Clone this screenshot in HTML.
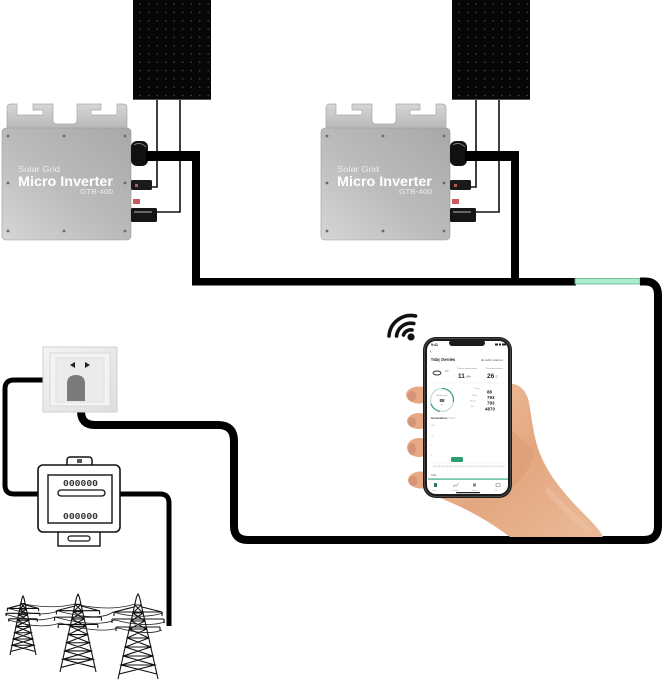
<!DOCTYPE html>
<html><head><meta charset="utf-8"><style>
html,body{margin:0;padding:0;background:#fff;}
svg{display:block}
</style></head><body>
<svg width="663" height="679" viewBox="0 0 663 679" xmlns="http://www.w3.org/2000/svg" font-family="Liberation Sans, sans-serif">
<defs>
<pattern id="cells" x="0" y="0" width="8.5" height="8.3" patternUnits="userSpaceOnUse">
<rect width="8.5" height="8.3" fill="#070707"/>
<circle cx="4.2" cy="4.2" r="0.8" fill="#474747"/>
</pattern>
<linearGradient id="inv" x1="1" y1="0" x2="0" y2="1">
<stop offset="0" stop-color="#a8a8a8"/>
<stop offset="0.55" stop-color="#bcbcbc"/>
<stop offset="1" stop-color="#d6d6d6"/>
</linearGradient>
<linearGradient id="brk" x1="0" y1="0" x2="0" y2="1">
<stop offset="0" stop-color="#d6d6d6"/><stop offset="1" stop-color="#b6b6b6"/>
</linearGradient>
<linearGradient id="skin" x1="0" y1="0" x2="1" y2="1">
<stop offset="0" stop-color="#f0c29f"/>
<stop offset="0.5" stop-color="#e3a780"/>
<stop offset="1" stop-color="#ebba98"/>
</linearGradient>
<linearGradient id="outlet" x1="0" y1="0" x2="1" y2="1">
<stop offset="0" stop-color="#f4f4f4"/><stop offset="1" stop-color="#dedede"/>
</linearGradient>
</defs>

<!-- ================= Inverter 1 ================= -->
<g>
<rect x="133" y="0" width="78" height="100" fill="url(#cells)"/>
<line x1="133" y1="99.5" x2="211" y2="99.5" stroke="#555" stroke-width="1"/>
<path d="M157 100 V187 H150 M180 100 V212 H155" fill="none" stroke="#111" stroke-width="1.6"/>
<path d="M7 130 V108 Q7 104 11 104 H17 V115 H43 V110 H33 V104 H53 V120 Q53 124 57 124 H73 Q77 124 77 120 V104 H101 V110 H91 V115 H117 V104 H123 Q127 104 127 108 V130 Z" fill="url(#brk)" stroke="#a8a8a8" stroke-width="0.7"/>
<rect x="2" y="128" width="129" height="112" rx="4" fill="url(#inv)" stroke="#999" stroke-width="0.6"/>
<g fill="#6a6a6a">
<circle cx="8" cy="136" r="1.4"/><circle cx="64" cy="136" r="1.4"/><circle cx="125" cy="136" r="1.4"/>
<circle cx="8" cy="183" r="1.4"/><circle cx="125" cy="183" r="1.4"/>
<circle cx="8" cy="231" r="1.4"/><circle cx="64" cy="231" r="1.4"/><circle cx="125" cy="231" r="1.4"/>
</g>
<text x="18" y="172" font-size="8" fill="#ececec" textLength="42" lengthAdjust="spacingAndGlyphs">Solar Grid</text>
<text x="18" y="186" font-size="14" font-weight="bold" fill="#fff" textLength="95" lengthAdjust="spacingAndGlyphs">Micro Inverter</text>
<text x="80" y="194" font-size="7" fill="#ececec" textLength="33" lengthAdjust="spacingAndGlyphs">GTB-400</text>
<rect x="131" y="141" width="17" height="25" rx="6" fill="#111"/>
<path d="M134 145 q6 -4 12 2" stroke="#777" fill="none" stroke-width="1"/>
<rect x="131" y="180" width="21" height="10" rx="1.5" fill="#1a1a1a"/>
<rect x="135" y="184" width="3" height="3" fill="#b55"/>
<rect x="133" y="199" width="7" height="5" fill="#c9595b"/>
<rect x="131" y="208" width="26" height="14" rx="1.5" fill="#151515"/>
<rect x="134" y="211" width="18" height="2" fill="#666"/>
<rect x="146" y="151" width="54" height="10" fill="#000"/>
<rect x="192" y="151" width="8" height="134" fill="#000"/>
</g>

<!-- ================= Inverter 2 ================= -->
<g transform="translate(319,0)">
<rect x="133" y="0" width="78" height="100" fill="url(#cells)"/>
<line x1="133" y1="99.5" x2="211" y2="99.5" stroke="#555" stroke-width="1"/>
<path d="M157 100 V187 H150 M180 100 V212 H155" fill="none" stroke="#111" stroke-width="1.6"/>
<path d="M7 130 V108 Q7 104 11 104 H17 V115 H43 V110 H33 V104 H53 V120 Q53 124 57 124 H73 Q77 124 77 120 V104 H101 V110 H91 V115 H117 V104 H123 Q127 104 127 108 V130 Z" fill="url(#brk)" stroke="#a8a8a8" stroke-width="0.7"/>
<rect x="2" y="128" width="129" height="112" rx="4" fill="url(#inv)" stroke="#999" stroke-width="0.6"/>
<g fill="#6a6a6a">
<circle cx="8" cy="136" r="1.4"/><circle cx="64" cy="136" r="1.4"/><circle cx="125" cy="136" r="1.4"/>
<circle cx="8" cy="183" r="1.4"/><circle cx="125" cy="183" r="1.4"/>
<circle cx="8" cy="231" r="1.4"/><circle cx="64" cy="231" r="1.4"/><circle cx="125" cy="231" r="1.4"/>
</g>
<text x="18" y="172" font-size="8" fill="#ececec" textLength="42" lengthAdjust="spacingAndGlyphs">Solar Grid</text>
<text x="18" y="186" font-size="14" font-weight="bold" fill="#fff" textLength="95" lengthAdjust="spacingAndGlyphs">Micro Inverter</text>
<text x="80" y="194" font-size="7" fill="#ececec" textLength="33" lengthAdjust="spacingAndGlyphs">GTB-400</text>
<rect x="131" y="141" width="17" height="25" rx="6" fill="#111"/>
<path d="M134 145 q6 -4 12 2" stroke="#777" fill="none" stroke-width="1"/>
<rect x="131" y="180" width="21" height="10" rx="1.5" fill="#1a1a1a"/>
<rect x="135" y="184" width="3" height="3" fill="#b55"/>
<rect x="133" y="199" width="7" height="5" fill="#c9595b"/>
<rect x="131" y="208" width="26" height="14" rx="1.5" fill="#151515"/>
<rect x="134" y="211" width="18" height="2" fill="#666"/>
<rect x="146" y="151" width="54" height="10" fill="#000"/>
<rect x="192" y="151" width="8" height="134" fill="#000"/>
</g>

<!-- ================= Main cables ================= -->
<rect x="192" y="278" width="384" height="7.5" fill="#000"/>
<rect x="575" y="278.5" width="65" height="5.5" fill="#aeeacc" stroke="#5bb98e" stroke-width="0.8"/>
<path d="M640 281.5 H645 Q658 281.5 658 295 V526 Q658 540 644 540 H248 Q234 540 234 526 V441 Q234 425 218 425 H95 Q81 425 81 411 V398" fill="none" stroke="#000" stroke-width="8"/>
<path d="M45 380 H14 Q5 380 5 389 V485 Q5 494 14 494 H40" fill="none" stroke="#000" stroke-width="5"/>
<path d="M118 494 H160 Q169 494 169 503 V626" fill="none" stroke="#000" stroke-width="5"/>

<!-- ================= Outlet ================= -->
<rect x="43" y="347" width="74" height="65" fill="url(#outlet)" stroke="#d0d0d0"/>
<rect x="50" y="353" width="60" height="53" fill="#f3f3f3" stroke="#d8d8d8"/>
<rect x="56" y="358" width="48" height="44" fill="#ebebeb" stroke="#e0e0e0"/>
<polygon points="70,365 75,362 75,368" fill="#222"/>
<polygon points="90,365 85,362 85,368" fill="#222"/>
<path d="M67 401 V384 Q67 375 76 375 Q85 375 85 384 V401 Z" fill="#7b7b7b"/>

<!-- ================= Meter ================= -->
<rect x="58" y="528" width="42" height="18" fill="#fff" stroke="#111" stroke-width="1.4"/>
<rect x="68" y="536" width="22" height="5" rx="2.5" fill="#fff" stroke="#111" stroke-width="1.2"/>
<rect x="67" y="457" width="25" height="12" rx="3" fill="#fff" stroke="#111" stroke-width="1.5"/>
<rect x="77" y="459" width="5" height="4" fill="#555"/>
<rect x="38" y="465" width="82" height="67" rx="5" fill="#fff" stroke="#111" stroke-width="1.6"/>
<rect x="48" y="475" width="64" height="48" fill="#fff" stroke="#111" stroke-width="1.4"/>
<text x="63" y="486" font-size="9" font-family="Liberation Mono, monospace" font-weight="bold" fill="#333" textLength="35" lengthAdjust="spacingAndGlyphs">000000</text>
<text x="63" y="519" font-size="9" font-family="Liberation Mono, monospace" font-weight="bold" fill="#333" textLength="35" lengthAdjust="spacingAndGlyphs">000000</text>
<rect x="58" y="490" width="47" height="6" rx="3" fill="#fff" stroke="#111" stroke-width="1.3"/>

<!-- ================= Pylons ================= -->
<g fill="none" stroke="#222" stroke-width="0.8">
<path d="M7 608 Q40 618 58 611 Q100 622 113 612 Q140 620 163 613"/>
<path d="M5 614 Q35 624 55 617 Q95 628 115 620 Q145 628 165 622"/>
<path d="M9 620 Q40 630 60 623 Q100 634 118 628 Q148 636 162 630"/>
<path d="M20 603 Q50 610 75 604 Q110 612 135 604"/>
</g>
<g stroke="#111" fill="none">
<g transform="translate(23,598) scale(0.65,0.695)">
<path vector-effect="non-scaling-stroke" stroke-width="1.1" d="M-1.5 0 L-20 82 M1.5 0 L20 82 M-1.5 0 L0 -3 L1.5 0 M-3.3 8 L5.1 16 L-6.9 24 L8.7 32 L-10.75 41 L12.8 50 L-14.8 59 L16.8 68 L-18.9 77 M3.3 8 L-5.1 16 L6.9 24 L-8.7 32 L10.75 41 L-12.8 50 L14.8 59 L-16.8 68 L18.9 77 M-3.3 8H3.3 M-5.1 16H5.1 M-6.9 24H6.9 M-8.7 32H8.7 M-10.75 41H10.75 M-12.8 50H12.8 M-14.8 59H14.8 M-16.8 68H16.8 M-24 15 H24 M-26 22 H26 M-22 30 H22 M-24 15 L-4 10 M24 15 L4 10 M-24 15 v4 M24 15 v4 M-26 22 v4 M26 22 v4 M-22 30 v4 M22 30 v4"/>
</g>
<g transform="translate(78,597) scale(0.9,0.915)">
<path vector-effect="non-scaling-stroke" stroke-width="1.1" d="M-1.5 0 L-20 82 M1.5 0 L20 82 M-1.5 0 L0 -3 L1.5 0 M-3.3 8 L5.1 16 L-6.9 24 L8.7 32 L-10.75 41 L12.8 50 L-14.8 59 L16.8 68 L-18.9 77 M3.3 8 L-5.1 16 L6.9 24 L-8.7 32 L10.75 41 L-12.8 50 L14.8 59 L-16.8 68 L18.9 77 M-3.3 8H3.3 M-5.1 16H5.1 M-6.9 24H6.9 M-8.7 32H8.7 M-10.75 41H10.75 M-12.8 50H12.8 M-14.8 59H14.8 M-16.8 68H16.8 M-24 15 H24 M-26 22 H26 M-22 30 H22 M-24 15 L-4 10 M24 15 L4 10 M-24 15 v4 M24 15 v4 M-26 22 v4 M26 22 v4 M-22 30 v4 M22 30 v4"/>
</g>
<g transform="translate(138,597)">
<path vector-effect="non-scaling-stroke" stroke-width="1.1" d="M-1.5 0 L-20 82 M1.5 0 L20 82 M-1.5 0 L0 -3 L1.5 0 M-3.3 8 L5.1 16 L-6.9 24 L8.7 32 L-10.75 41 L12.8 50 L-14.8 59 L16.8 68 L-18.9 77 M3.3 8 L-5.1 16 L6.9 24 L-8.7 32 L10.75 41 L-12.8 50 L14.8 59 L-16.8 68 L18.9 77 M-3.3 8H3.3 M-5.1 16H5.1 M-6.9 24H6.9 M-8.7 32H8.7 M-10.75 41H10.75 M-12.8 50H12.8 M-14.8 59H14.8 M-16.8 68H16.8 M-24 15 H24 M-26 22 H26 M-22 30 H22 M-24 15 L-4 10 M24 15 L4 10 M-24 15 v4 M24 15 v4 M-26 22 v4 M26 22 v4 M-22 30 v4 M22 30 v4"/>
</g>
</g>

<!-- ================= WiFi ================= -->
<g fill="none" stroke="#111" stroke-width="3.6" stroke-linecap="round">
<path d="M389 336 A22 22 0 0 1 415.5 316"/>
<path d="M396.5 336 A14.5 14.5 0 0 1 413.8 323.5"/>
<path d="M403.5 335 A7.5 7.5 0 0 1 412 330"/>
</g>
<circle cx="411" cy="337" r="3.6" fill="#111"/>

<!-- ================= Hand ================= -->
<path d="M505 384 C518 382 526 389 529 402 C532 420 534 440 541 456 C550 478 568 498 588 518 C596 526 601 532 603 537 L510 537 C490 522 470 510 440 498 L440 384 Z" fill="url(#skin)"/>
<path d="M512 430 C520 438 528 446 535 452 C530 470 520 480 512 488 Z" fill="#d99a75" opacity="0.55"/>
<path d="M548 486 C562 502 578 516 592 530 L586 532 C572 520 558 506 545 492 Z" fill="#f3ccb0" opacity="0.35"/>
<g fill="#e6a983">
<ellipse cx="419" cy="395" rx="13" ry="8.5"/>
<ellipse cx="419" cy="421" rx="12" ry="8"/>
<ellipse cx="419" cy="447.5" rx="12" ry="9.5"/>
<ellipse cx="421" cy="480" rx="13" ry="8.5"/>
</g>
<g fill="#cf8a70" opacity="0.65">
<ellipse cx="412" cy="396" rx="4.5" ry="5"/>
<ellipse cx="412" cy="422" rx="4" ry="5"/>
<ellipse cx="412" cy="449" rx="4" ry="6"/>
<ellipse cx="413" cy="481" rx="4.5" ry="5"/>
</g>

<!-- ================= Phone ================= -->
<rect x="423" y="337" width="89" height="161" rx="13" fill="#1c1c1c"/>
<rect x="424.5" y="338.5" width="86" height="158" rx="12" fill="none" stroke="#555" stroke-width="0.8"/>
<rect x="427" y="341" width="81" height="153" rx="9" fill="#fff"/>
<rect x="449" y="340" width="36" height="6" rx="3" fill="#1c1c1c"/>
<text x="431" y="346" font-size="3.5" font-weight="bold" fill="#111">9:41</text>
<rect x="495" y="343.5" width="3" height="2" fill="#222"/><rect x="499" y="343.5" width="2" height="2" fill="#222"/><rect x="502" y="343.5" width="4" height="2" fill="#222"/>
<text x="430" y="353" font-size="5" fill="#333">‹</text>
<text x="431" y="361" font-size="4.6" font-weight="bold" fill="#222" textLength="24" lengthAdjust="spacingAndGlyphs">Today Overview</text>
<text x="481" y="361" font-size="3" fill="#555" textLength="22" lengthAdjust="spacingAndGlyphs">⊕ Add station</text>
<ellipse cx="437" cy="373" rx="4" ry="2" fill="none" stroke="#333" stroke-width="0.9"/>
<text x="445" y="372" font-size="2.4" fill="#777">kW</text>
<text x="457" y="369" font-size="2.2" fill="#888" textLength="20" lengthAdjust="spacingAndGlyphs">Power generation</text>
<text x="458" y="378" font-size="6.5" font-weight="bold" fill="#222">11</text>
<text x="466" y="377.5" font-size="2.5" fill="#555">kWh</text>
<text x="486" y="369" font-size="2.2" fill="#888" textLength="17" lengthAdjust="spacingAndGlyphs">Temperature</text>
<text x="487" y="378" font-size="6.5" font-weight="bold" fill="#222">26</text>
<text x="495" y="377.5" font-size="2.5" fill="#555">°C</text>
<line x1="430" y1="383" x2="505" y2="383" stroke="#eee" stroke-width="0.6"/>
<circle cx="442" cy="400" r="11.5" fill="none" stroke="#c8ddd2" stroke-width="1.3"/>
<path d="M442 388.5 A11.5 11.5 0 0 1 453.3 402" fill="none" stroke="#4aa57e" stroke-width="1.3"/>
<path d="M431 404 A11.5 11.5 0 0 0 440 411.3" fill="none" stroke="#4aa57e" stroke-width="1.3"/>
<text x="442" y="396" font-size="2.2" fill="#888" text-anchor="middle">Real power</text>
<text x="442" y="402" font-size="4.6" font-weight="bold" fill="#222" text-anchor="middle">88</text>
<text x="442" y="405.5" font-size="2" fill="#888" text-anchor="middle">W</text>
<g font-size="2" fill="#999">
<text x="474" y="389">Power</text><text x="472" y="396">Today</text><text x="470" y="401.5">Month</text><text x="470" y="407">Total</text>
</g>
<g font-size="4.5" font-weight="bold" fill="#222">
<text x="487" y="393.5">88</text><text x="487" y="399">793</text><text x="487" y="404.5">793</text><text x="485" y="410.5">4870</text>
</g>
<text x="431" y="419" font-size="3" font-weight="bold" fill="#333">Generation</text>
<text x="447" y="419" font-size="3" fill="#aaa">Power</text>
<g font-size="2" fill="#aaa">
<text x="431" y="426">kWh</text><text x="431" y="436">10</text><text x="431" y="446">5</text><text x="431" y="456">0</text>
</g>
<rect x="451" y="457" width="12" height="5" rx="1" fill="#2f9d70"/>
<line x1="431" y1="463" x2="505" y2="463" stroke="#eee" stroke-width="0.5"/>
<text x="433" y="467" font-size="2" fill="#aaa" textLength="72" lengthAdjust="spacingAndGlyphs">00:00 03:00 06:00 09:00 12:00 15:00 18:00 21:00 24:00</text>
<text x="431" y="476" font-size="2.4" fill="#555">Total</text>
<rect x="428" y="478.5" width="80" height="1.2" fill="#3fae80"/>
<rect x="434" y="483" width="3" height="4" fill="#2c7a5a"/>
<path d="M453 487 l2 -2 l1.5 1 l2 -3" fill="none" stroke="#888" stroke-width="0.6"/>
<rect x="473" y="483.5" width="3" height="3" fill="#888"/>
<rect x="496" y="483.5" width="4" height="3" fill="none" stroke="#888" stroke-width="0.6"/>
<g font-size="1.8" fill="#aaa">
<text x="432" y="491">Home</text><text x="452" y="491">Statistics</text><text x="472" y="491">Device</text><text x="495" y="491">Me</text>
</g>
<rect x="456" y="492" width="24" height="1.3" rx="0.6" fill="#222"/>
</svg>
</body></html>
